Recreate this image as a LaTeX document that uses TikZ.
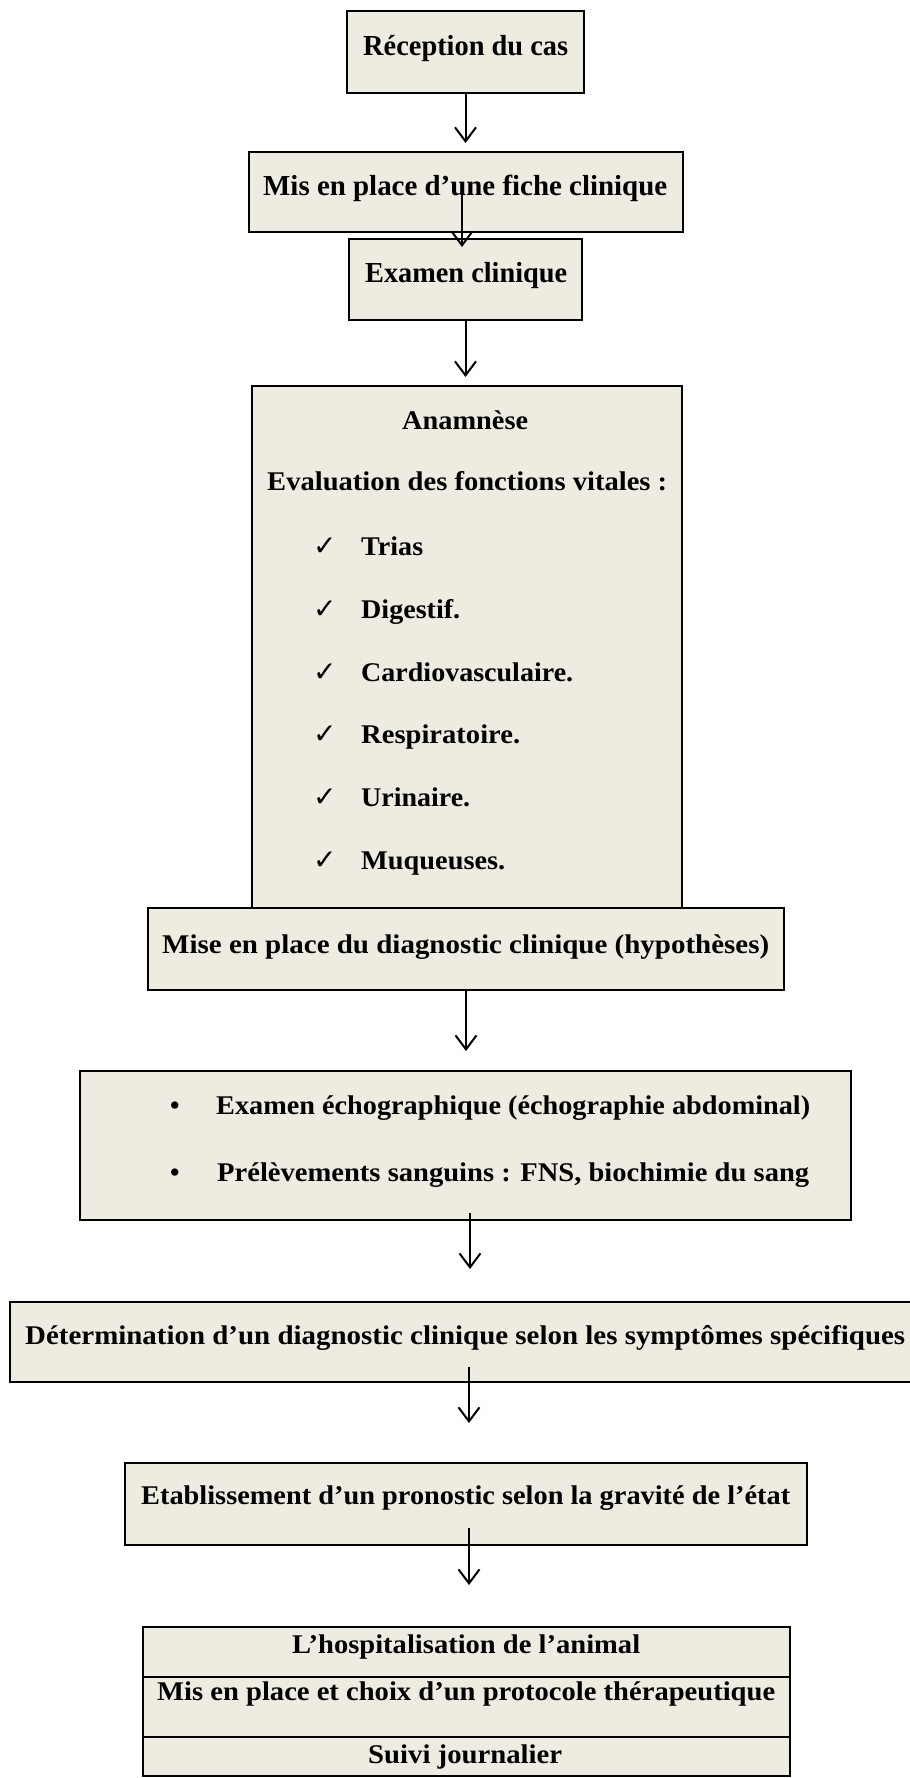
\documentclass[tikz,border=0pt]{standalone}
\usepackage{fontspec}
\setmainfont{Liberation Serif}
\newfontfamily\symf{DejaVu Sans}
\usetikzlibrary{arrows.meta,calc}
\definecolor{boxfill}{RGB}{238,236,225}
\newcommand{\fitto}[2]{\resizebox{#1pt}{\height}{#2}}
\tikzset{
  box/.style={draw=black, line width=2pt, fill=boxfill, inner sep=0pt, rectangle},
  lbl/.style={anchor=base west, inner sep=0pt, font=\bfseries\fontsize{27}{30}\selectfont},
  lbltop/.style={anchor=base west, inner sep=0pt, font=\bfseries\fontsize{29}{32}\selectfont},
  chk/.style={anchor=base west, inner sep=0pt, font=\symf\fontsize{28}{30}\selectfont},
  arr/.style={line width=2pt, -{Straight Barb[length=14pt,width=21pt,line width=2pt]}},
  rowline/.style={line width=2pt},
}
\begin{document}
\begin{tikzpicture}[x=1pt,y=-1pt]
\useasboundingbox (0,0) rectangle (910,1778);
% boxes
\node[box, minimum width=237, minimum height=82] (b1) at (465.5,52) {};
\node[box, minimum width=434, minimum height=80] (b2) at (466,192) {};
\node[box, minimum width=233, minimum height=81] (b3) at (465.5,279.5) {};
\node[box, minimum width=430, minimum height=522] (b4) at (467,647) {};
\node[box, minimum width=636, minimum height=82] (b5) at (466,949) {};
\node[box, minimum width=771, minimum height=149] (b6) at (465.5,1145.5) {};
\node[box, minimum width=910, minimum height=80] (b7) at (465,1342) {};
\node[box, minimum width=682, minimum height=82] (b8) at (466,1504) {};
\node[box, minimum width=647, minimum height=149] (b9) at (466.5,1701.5) {};
\draw[rowline] ($(b9.west)+(0,-24.5)$) -- ($(b9.east)+(0,-24.5)$);
\draw[rowline] ($(b9.west)+(0,35.5)$) -- ($(b9.east)+(0,35.5)$);
% texts
\node[lbltop] (t1) at (363,55) {\fitto{205}{Réception du cas}};
\node[lbltop] (t2) at (263,195) {\fitto{404}{Mis en place d’une fiche clinique}};
\node[lbltop] (t3) at (365,282) {\fitto{202}{Examen clinique}};
\node[lbl] (t4a) at (402,429) {\fitto{126}{Anamnèse}};
\node[lbl] (t4b) at (267,490) {\fitto{400}{Evaluation des fonctions vitales :}};
\node[chk] (c1) at (313,555) {✓};
\node[chk] (c2) at (313,618) {✓};
\node[chk] (c3) at (313,681) {✓};
\node[chk] (c4) at (313,743) {✓};
\node[chk] (c5) at (313,806) {✓};
\node[chk] (c6) at (313,869) {✓};
\node[lbl] (i1) at (361,555) {\fitto{62}{Trias}};
\node[lbl] (i2) at (361,618) {\fitto{99}{Digestif.}};
\node[lbl] (i3) at (361,681) {\fitto{212}{Cardiovasculaire.}};
\node[lbl] (i4) at (361,743) {\fitto{159}{Respiratoire.}};
\node[lbl] (i5) at (361,806) {\fitto{109}{Urinaire.}};
\node[lbl] (i6) at (361,869) {\fitto{144}{Muqueuses.}};
\node[lbl] (t5) at (162,953) {\fitto{607}{Mise en place du diagnostic clinique (hypothèses)}};
\node[lbl] (d1) at (170,1114) {•};
\node[lbl] (d2) at (170,1181) {•};
\node[lbl] (t6a) at (216,1114) {\fitto{594}{Examen échographique (échographie abdominal)}};
\node[lbl] (t6b) at (217,1181) {\fitto{592}{Prélèvements sanguins : FNS, biochimie du sang}};
\node[lbl] (t7) at (25,1344) {\fitto{880}{Détermination d’un diagnostic clinique selon les symptômes spécifiques}};
\node[lbl] (t8) at (141,1504) {\fitto{649}{Etablissement d’un pronostic selon la gravité de l’état}};
\node[lbl] (t9a) at (292,1653) {\fitto{348}{L’hospitalisation de l’animal}};
\node[lbl] (t9b) at (157,1700) {\fitto{618}{Mis en place et choix d’un protocole thérapeutique}};
\node[lbl] (t9c) at (368,1763) {\fitto{194}{Suivi journalier}};
% connector coordinates
\coordinate (h1) at (465.5,143);
\coordinate (s2) at (462,187);
\coordinate (h2) at (462,247);
\coordinate (h3) at (465.5,377);
\coordinate (h4) at (466,1051);
\coordinate (s5) at (470,1213);
\coordinate (h5) at (470,1269);
\coordinate (s6) at (469,1367);
\coordinate (h6) at (469,1423);
\coordinate (s7) at (469,1528);
\coordinate (h7) at (469,1585);
% connectors
\draw[arr] (b1.south) -- (h1);
\draw[arr] (s2) -- (h2);
\draw[arr] (b3.south) -- (h3);
\draw[arr] (b5.south) -- (h4);
\draw[arr] (s5) -- (h5);
\draw[arr] (s6) -- (h6);
\draw[arr] (s7) -- (h7);
\end{tikzpicture}
\end{document}
